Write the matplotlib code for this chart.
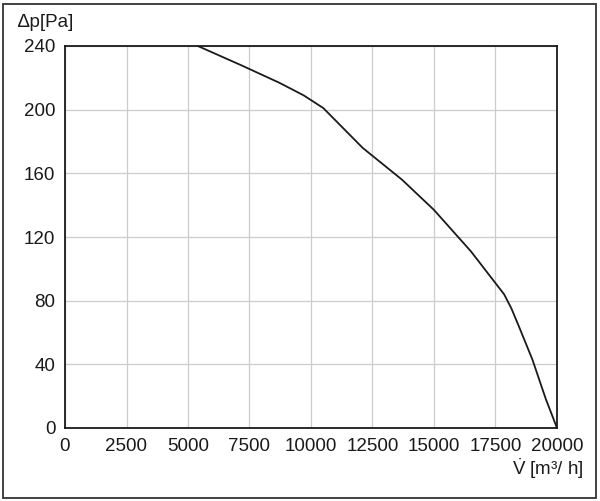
import matplotlib.pyplot as plt
import matplotlib.patches as patches

plt.rcParams['font.family'] = ['Liberation Sans', 'DejaVu Sans']
plt.rcParams['mathtext.fontset'] = 'custom'
plt.rcParams['mathtext.rm'] = 'Liberation Sans'

# fan curve
flow = [5400, 7150, 8700, 9700, 10100, 10500, 12100, 13700, 15000, 16500, 17500, 17850, 18150, 18500, 19000, 19550, 20000]
pressure = [240, 228, 217, 209, 205, 201, 176, 156, 137, 111, 91, 84, 75, 62, 43, 18, 0]

xticks = [0, 2500, 5000, 7500, 10000, 12500, 15000, 17500, 20000]
yticks = [0, 40, 80, 120, 160, 200, 240]

fig = plt.figure(figsize=(6, 5.01), dpi=100)
ax = fig.add_axes([65 / 600, 1 - 428 / 501, 492 / 600, 382 / 501])

ax.plot(flow, pressure, color='#1a1a1a', linewidth=1.3, solid_joinstyle='round')
ax.set_xlim(0, 20000)
ax.set_ylim(0, 240)
ax.set_xticks(xticks)
ax.set_yticks(yticks)
ax.grid(True, color='#cccccc', linewidth=0.9)
ax.set_axisbelow(True)
ax.tick_params(length=0, labelsize=13.5, colors='#1a1a1a', pad=7)
for s in ax.spines.values():
    s.set_linewidth(1.3)
    s.set_color('#1a1a1a')

fig.text(18 / 600, 1 - 22 / 501, '∆p[Pa]', fontsize=13.5, va='center', ha='left', color='#1a1a1a')
fig.text(584 / 600, 1 - 469 / 501, r'$\dot{\mathrm{V}}$ [m³/ h]', fontsize=13.5, va='center', ha='right', color='#1a1a1a')

# outer frame
fig.patches.append(patches.Rectangle((3 / 600, 3 / 501), 593 / 600, 494 / 501, transform=fig.transFigure,
                                     fill=False, edgecolor='#333333', linewidth=1.3))

fig.savefig('out.png', dpi=100)
